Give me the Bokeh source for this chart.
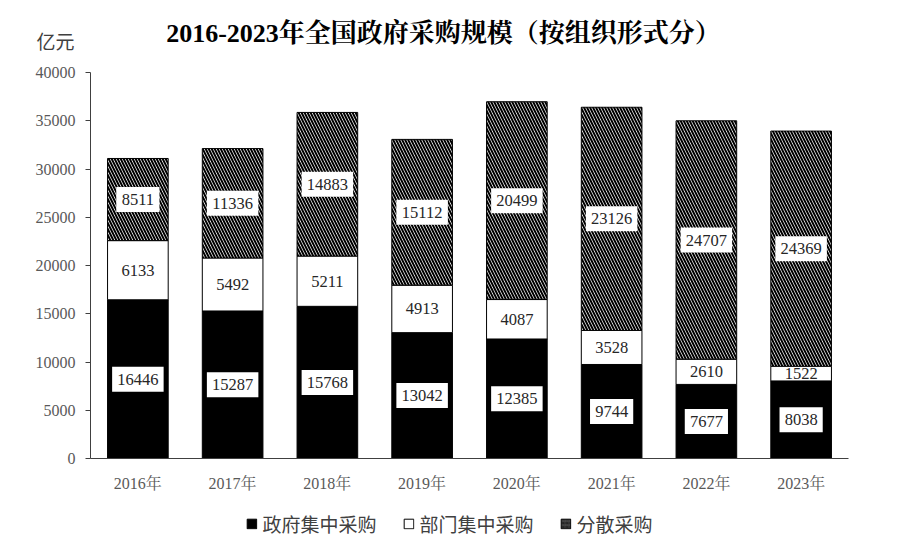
import numpy as np
from bokeh.plotting import figure
from bokeh.layouts import column
from bokeh.models import (ColumnDataSource, FactorRange, Range1d, Label, Legend,
                          LegendItem, FixedTicker, NumeralTickFormatter)
from bokeh.core.properties import value
from bokeh.embed import file_html
from bokeh.resources import INLINE

years = ["2016年", "2017年", "2018年", "2019年", "2020年", "2021年", "2022年", "2023年"]
central = [16446, 15287, 15768, 13042, 12385, 9744, 7677, 8038]
dept = [6133, 5492, 5211, 4913, 4087, 3528, 2610, 1522]
scattered = [8511, 11336, 14883, 15112, 20499, 23126, 24707, 24369]
series_names = ["政府集中采购", "部门集中采购", "分散采购"]
y_ticks = [0, 5000, 10000, 15000, 20000, 25000, 30000, 35000, 40000]
title_text = "2016-2023年全国政府采购规模（按组织形式分）"
unit_text = "亿元"

SERIF = "'Liberation Serif', 'Noto Serif CJK SC', 'Noto Sans CJK SC', serif"
SANS = "'Noto Sans CJK SC', sans-serif"
W = 898

def bare_fig(h, **kw):
    f = figure(width=W, height=h, output_backend="svg", toolbar_location=None,
               x_axis_type=None, y_axis_type=None,
               min_border_left=0, min_border_right=0, min_border_top=0, min_border_bottom=0,
               background_fill_color="white", border_fill_color="white", **kw)
    f.outline_line_color = None
    f.grid.visible = False
    f.frame_align = False
    return f

# ---------- header: title and unit ----------
HEAD_H = 60
hf = bare_fig(HEAD_H, x_range=Range1d(0, W), y_range=Range1d(0, HEAD_H))
hf.add_layout(Label(x=443, y=HEAD_H - 33, text=title_text, text_align="center",
                    text_baseline="middle", text_font=SERIF, text_font_size="26px",
                    text_font_style="bold", text_color="black"))
hf.add_layout(Label(x=55, y=HEAD_H - 40, text=unit_text, text_align="center",
                    text_baseline="middle", text_font=SANS, text_font_size="19px",
                    text_color="#404040"))

# ---------- main chart ----------
c = np.array(central)
d = np.array(dept)
s = np.array(scattered)
c1 = c
d1 = c + d
s1 = c + d + s

src = ColumnDataSource(dict(x=years, c1=c1, d1=d1, s1=s1))

p = figure(x_range=FactorRange(factors=years, range_padding=0),
           y_range=Range1d(0, 40000),
           width=W, height=440, output_backend="svg", toolbar_location=None,
           min_border_left=90, min_border_right=50, min_border_top=12, min_border_bottom=42,
           background_fill_color="white", border_fill_color="white")
p.outline_line_color = None
p.grid.visible = False
p.frame_align = False

BW = 0.64
HATCH = dict(hatch_pattern="left_diagonal_line", hatch_color="black",
             hatch_scale=6, hatch_weight=2.0)
r1 = p.vbar(x="x", bottom=0, top="c1", width=BW, fill_color="black",
            line_color="black", line_width=1, source=src)
r2 = p.vbar(x="x", bottom="c1", top="d1", width=BW, fill_color="white",
            line_color="black", line_width=1, source=src)
r3 = p.vbar(x="x", bottom="d1", top="s1", width=BW, fill_color="white",
            line_color="black", line_width=1, source=src, **HATCH)

# value labels
def label_rows(vals, bottoms, tops):
    xs, ys, txt, ws = [], [], [], []
    for yr, v, b, t in zip(years, vals, bottoms, tops):
        xs.append(yr)
        ys.append(float(b + t) / 2)
        txt.append(str(v))
        ws.append(10 + 8.3 * len(str(v)))
    return dict(x=xs, y=ys, text=txt, w=ws)

lc = label_rows(central, np.zeros(8), c1)
ls = label_rows(scattered, d1, s1)
boxed_src = ColumnDataSource({k: lc[k] + ls[k] for k in lc})
plain_src = ColumnDataSource(label_rows(dept, c1, d1))

p.rect(x="x", y="y", width="w", height=25, width_units="screen", height_units="screen",
       fill_color="white", line_color=None, source=boxed_src)
for srcx in (boxed_src, plain_src):
    p.text(x="x", y="y", text="text", source=srcx, text_align="center",
           text_baseline="middle", text_font=value(SERIF), text_font_size="16.5px",
           text_color="#262626")

# axes
p.yaxis.ticker = FixedTicker(ticks=y_ticks)
p.yaxis.formatter = NumeralTickFormatter(format="0")
p.yaxis.minor_tick_line_color = None
p.yaxis.major_tick_out = 5
p.yaxis.major_tick_in = 0
p.yaxis.axis_line_color = "#404040"
p.yaxis.major_tick_line_color = "#404040"
p.yaxis.major_label_text_font = SERIF
p.yaxis.major_label_text_font_size = "16px"
p.yaxis.major_label_text_color = "#595959"
p.yaxis.major_label_standoff = 10

p.xaxis.major_tick_line_color = None
p.xaxis.minor_tick_line_color = None
p.xaxis.axis_line_color = "#404040"
p.xaxis.major_label_text_font = SERIF
p.xaxis.major_label_text_font_size = "16px"
p.xaxis.major_label_text_color = "#595959"
p.xaxis.major_label_standoff = 10

# ---------- legend strip ----------
lf = bare_fig(46, x_range=Range1d(0, 1), y_range=Range1d(0, 1))
dummy = ColumnDataSource(dict(x=[-5.0], top=[-5.0]))  # outside the view; only feeds legend icons
g1 = lf.vbar(x="x", top="top", width=0.1, fill_color="black", line_color="black", source=dummy)
g2 = lf.vbar(x="x", top="top", width=0.1, fill_color="white", line_color="black", source=dummy)
g3 = lf.vbar(x="x", top="top", width=0.1, fill_color="white", line_color="black",
             source=dummy, hatch_pattern="left_diagonal_line", hatch_color="black",
             hatch_scale=4, hatch_weight=1.5)
legend = Legend(items=[LegendItem(label=series_names[0], renderers=[g1]),
                       LegendItem(label=series_names[1], renderers=[g2]),
                       LegendItem(label=series_names[2], renderers=[g3])],
                orientation="horizontal", location="center",
                label_text_font=SANS, label_text_font_size="19px",
                label_text_color="#404040", glyph_width=12, glyph_height=12,
                label_standoff=5, spacing=26, padding=2, margin=0,
                border_line_color=None, background_fill_alpha=0)
lf.add_layout(legend, "center")

layout = column(hf, p, lf, spacing=0)
open("out.html", "w").write(file_html(layout, INLINE))
